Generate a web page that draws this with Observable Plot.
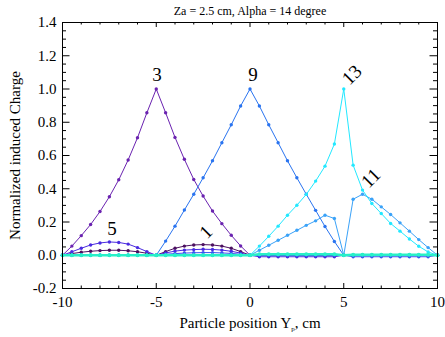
<!DOCTYPE html>
<html>
<head>
<meta charset="utf-8">
<script src="https://cdn.jsdelivr.net/npm/d3@7"></script>
<script src="https://cdn.jsdelivr.net/npm/@observablehq/plot@0.6"></script>
<style>
  html, body { margin: 0; padding: 0; background: #fff; }
  svg, svg text { font-family: "Liberation Serif", "Times New Roman", Times, serif !important; }
</style>
</head>
<body>
<div id="chart"></div>
<script>
// Particle positions (cm)
const xs = [-10,-9.5,-9,-8.5,-8,-7.5,-7,-6.5,-6,-5.5,-5,-4.5,-4,-3.5,-3,-2.5,-2,-1.5,-1,-0.5,0,
            0.5,1,1.5,2,2.5,3,3.5,4,4.5,5,5.5,6,6.5,7,7.5,8,8.5,9,9.5,10];

// Normalized induced charge per strip
const strip1 = [0,0.010,0.018,0.024,0.028,0.030,0.030,0.027,0.021,0.012,0,
                0.022,0.042,0.055,0.062,0.064,0.062,0.055,0.042,0.022,0,
                0,0,0,0,0,0,0,0,0,0,0,0,0,0,0,0,0,0,0,0];
const strip3 = [0,0.055,0.118,0.185,0.263,0.352,0.454,0.573,0.707,0.857,1.0,
                0.857,0.709,0.577,0.456,0.356,0.266,0.190,0.120,0.056,0,
                0,0,0,0,0,0,0,0,0,0,0,0,0,0,0,0,0,0,0,0];
const strip5 = [0,0.021,0.042,0.062,0.074,0.080,0.077,0.067,0.046,0.022,0,
                0.014,0.025,0.031,0.034,0.036,0.035,0.031,0.024,0.013,0,
                -0.009,-0.009,-0.009,-0.009,-0.009,-0.009,-0.009,-0.009,-0.009,0,
                0,0,0,0,0,0,0,0,0,0];
const strip7 = [0,0,0,0,0,0,0,0,0,0,0,
                0.006,0.010,0.013,0.015,0.016,0.016,0.014,0.011,0.006,0,
                0,0,0,0,0,0,0,0,0,0,
                -0.009,-0.009,-0.009,-0.009,-0.009,-0.009,-0.009,-0.009,-0.009,0];
const strip9 = [0,0,0,0,0,0,0,0,0,0,0,
                0.085,0.175,0.272,0.367,0.466,0.568,0.677,0.785,0.898,1.0,
                0.898,0.785,0.677,0.568,0.466,0.367,0.270,0.173,0.083,0,
                0,0,0,0,0,0,0,0,0,0];
const strip11 = [0,0,0,0,0,0,0,0,0,0,0,
                 0,0,0,0,0,0,0,0,0,0,
                 0.030,0.060,0.090,0.120,0.150,0.180,0.207,0.241,0.221,0,
                 0.337,0.367,0.337,0.291,0.245,0.195,0.145,0.094,0.046,0];
const strip13 = [0,0,0,0,0,0,0,0,0,0,0,
                 0,0,0,0,0,0,0,0,0,0,
                 0.055,0.114,0.175,0.241,0.301,0.366,0.446,0.536,0.669,1.0,
                 0.542,0.392,0.311,0.251,0.191,0.145,0.098,0.054,0.020,0];
const strip15 = [0,0,0,0,0,0,0,0,0,0,0,
                 0,0,0,0,0,0,0,0,0,0,
                 0.006,0.006,0.006,0.006,0.006,0.006,0.006,0.006,0.006,0,
                 0.003,0.003,0.003,0.003,0.003,0.003,0.003,0.003,0.003,0];

const seriesNames = ["1","3","5","7","9","11","13","15"];
const seriesValues = [strip1, strip3, strip5, strip7, strip9, strip11, strip13, strip15];
const seriesColors = ["#4c1060","#6a22b0","#4a2ae0","#3a52f0","#2a74f0","#3aa2f8","#22e8ff","#28f0c8"];

// Curve labels
const labelText = ["3","9","5","1","13","11"];
const labelX = [-4.96, 0.16, -7.36, -2.35, 5.44, 6.45];
const labelY = [1.084, 1.084, 0.157, 0.139, 1.084, 0.464];
const labelRotate = [0, 0, 0, -45, -45, -45];

// Axis ticks
const xMajor = [-10,-5,0,5,10];
const xMinor = [-9,-8,-7,-6,-4,-3,-2,-1,1,2,3,4,6,7,8,9];
const yMajor = [-0.2,0,0.2,0.4,0.6,0.8,1.0,1.2,1.4];
const yMinor = [-0.15,-0.1,-0.05,0.05,0.1,0.15,0.25,0.3,0.35,0.45,0.5,0.55,0.65,0.7,0.75,
                0.85,0.9,0.95,1.05,1.1,1.15,1.25,1.3,1.35];

const titleText = "Za = 2.5 cm, Alpha = 14 degree";
const xTitle = "Particle position Y_p, cm";
const yTitle = "Normalized induced Charge";

const W = 445, H = 337;
const mL = 62, mR = 8, mT = 22, mB = 49;
const pw = W - mL - mR, ph = H - mT - mB;
const FONT = "'Liberation Serif', 'Times New Roman', Times, serif";

const marks = [];
// tick marks, inward on all four sides
const xMaj = 5, xMin = 2.5, yMaj = 7.5, yMin = 4;
marks.push(Plot.tickX(xMajor, {x: d => d, insetTop: ph - xMaj, stroke: "#000"}));
marks.push(Plot.tickX(xMajor, {x: d => d, insetBottom: ph - xMaj, stroke: "#000"}));
marks.push(Plot.tickX(xMinor, {x: d => d, insetTop: ph - xMin, stroke: "#000"}));
marks.push(Plot.tickX(xMinor, {x: d => d, insetBottom: ph - xMin, stroke: "#000"}));
marks.push(Plot.tickY(yMajor, {y: d => d, insetRight: pw - yMaj, stroke: "#000"}));
marks.push(Plot.tickY(yMajor, {y: d => d, insetLeft: pw - yMaj, stroke: "#000"}));
marks.push(Plot.tickY(yMinor, {y: d => d, insetRight: pw - yMin, stroke: "#000"}));
marks.push(Plot.tickY(yMinor, {y: d => d, insetLeft: pw - yMin, stroke: "#000"}));

seriesValues.forEach((vals, i) => {
  const data = xs.map((x, j) => ({x, y: vals[j]}));
  const last = i === seriesValues.length - 1;
  marks.push(Plot.line(data, {x: "x", y: "y", stroke: seriesColors[i], strokeWidth: last ? 2.5 : 1}));
  marks.push(Plot.dot(data, {x: "x", y: "y", fill: seriesColors[i], r: last ? 2 : 1.7}));
});

marks.push(Plot.text(labelText, {
  x: (d, i) => labelX[i], y: (d, i) => labelY[i], text: d => d,
  rotate: (d, i) => labelRotate[i], fontSize: 19, fill: "#000", fontFamily: FONT
}));

marks.push(Plot.frame({stroke: "#000"}));
marks.push(Plot.axisX(xMajor, {tickSize: 0, tickPadding: 8, tickFormat: d => String(d), label: null, fontSize: 15, fontFamily: FONT}));
marks.push(Plot.axisY(yMajor, {tickSize: 0, tickPadding: 6, tickFormat: d => d.toFixed(1), label: null, fontSize: 15, fontFamily: FONT}));

marks.push(Plot.text([titleText], {frameAnchor: "top", dy: -11, fontSize: 12, fill: "#000", lineAnchor: "middle", fontFamily: FONT}));
marks.push(Plot.text([xTitle], {frameAnchor: "bottom", dy: 35, fontSize: 15, fill: "#000", lineAnchor: "middle", textAnchor: "middle", fontFamily: FONT}));
marks.push(Plot.text([yTitle], {frameAnchor: "left", dx: -47, rotate: -90, fontSize: 15, fill: "#000", lineAnchor: "middle", textAnchor: "middle", fontFamily: FONT}));

const chart = Plot.plot({
  width: W, height: H,
  marginLeft: mL, marginRight: mR, marginTop: mT, marginBottom: mB,
  x: {domain: [-10, 10]},
  y: {domain: [-0.2, 1.4]},
  style: {fontFamily: FONT, background: "#fff", color: "#000"},
  marks
});
document.getElementById("chart").appendChild(chart);

// subscript p in the x title
const xt = [...chart.querySelectorAll("text")].find(t => t.textContent === xTitle);
if (xt) {
  const parts = xTitle.split("_p");
  xt.textContent = "";
  const ns = "http://www.w3.org/2000/svg";
  const a = document.createElementNS(ns, "tspan"); a.textContent = parts[0];
  const b = document.createElementNS(ns, "tspan"); b.textContent = "p"; b.setAttribute("font-size", "7"); b.setAttribute("dy", "3");
  const c = document.createElementNS(ns, "tspan"); c.textContent = parts[1]; c.setAttribute("dy", "-3");
  xt.append(a, b, c);
}
</script>
</body>
</html>
